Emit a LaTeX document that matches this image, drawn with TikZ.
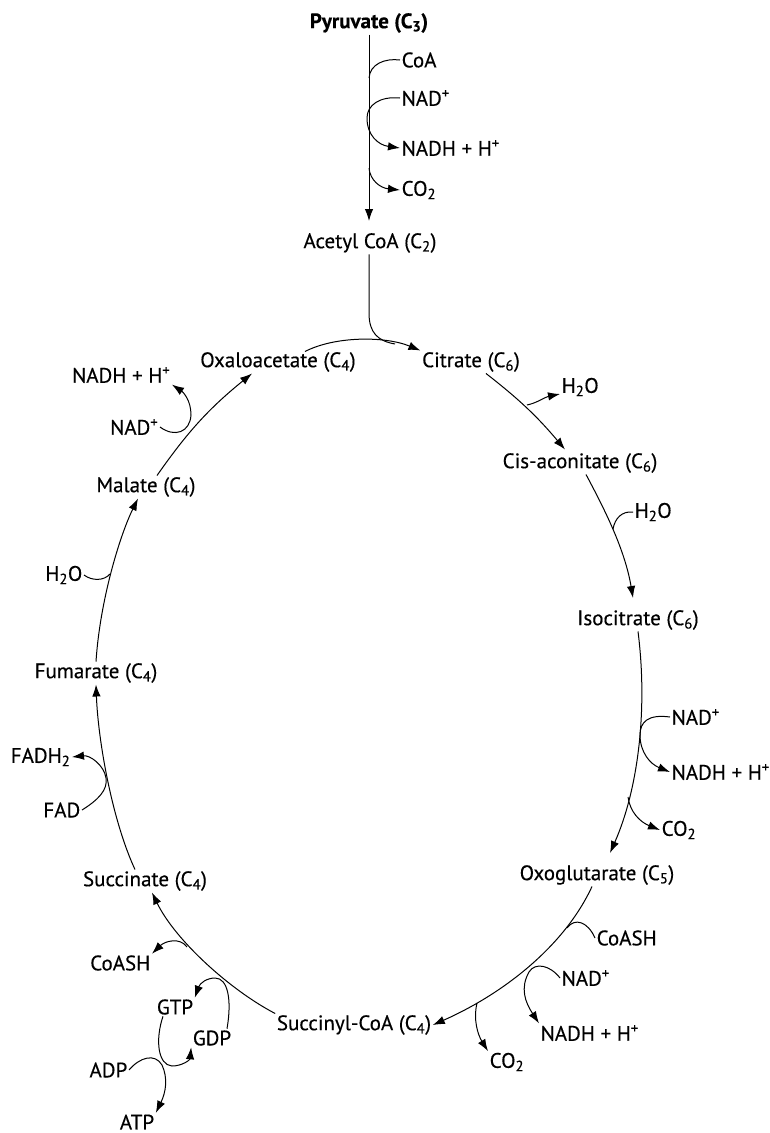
\documentclass[tikz,border=0pt]{standalone}
\usepackage{fontspec}
\setmainfont{PT Sans}[FakeBold=0.35]
\usetikzlibrary{arrows.meta,calc}
\newcommand\labfont{\fontsize{21}{24}\selectfont}
\newcommand\sub[1]{\textsubscript{#1}}
\newcommand\sups[1]{\textsuperscript{#1}}
\begin{document}
\begin{tikzpicture}[x=1pt,y=-1pt,
  lab/.style={inner sep=1.5pt,font=\labfont},
  conn/.style={line width=1pt},
  arr/.style={conn,-{Latex[length=12pt,width=8.5pt]}}]
\fill[white] (0,0) rectangle (770,1133);
\path[use as bounding box] (0,0) rectangle (770,1133);

% nodes
\node[lab,font=\labfont\bfseries] (pyr) at (369,23) {Pyruvate (C\sub{3})};
\node[lab,anchor=west] (coa1) at (400,60) {CoA};
\node[lab,anchor=west] (nad1) at (400,98) {NAD\sups{+}};
\node[lab,anchor=west] (nadh1) at (400,148) {NADH + H\sups{+}};
\node[lab,anchor=west] (co2a) at (400,190) {CO\sub{2}};
\node[lab] (acetyl) at (370,243) {Acetyl CoA (C\sub{2})};
\node[lab] (oxalo) at (278,362) {Oxaloacetate (C\sub{4})};
\node[lab] (citrate) at (471,362) {Citrate (C\sub{6})};
\node[lab,anchor=west] (h2o1) at (560,387) {H\sub{2}O};
\node[lab] (cis) at (580,463) {Cis-aconitate (C\sub{6})};
\node[lab,anchor=west] (h2o2) at (633,512) {H\sub{2}O};
\node[lab] (iso) at (638,620) {Isocitrate (C\sub{6})};
\node[lab,anchor=west] (nad2) at (670,717) {NAD\sups{+}};
\node[lab,anchor=west] (nadh2) at (670,772) {NADH + H\sups{+}};
\node[lab,anchor=west] (co2b) at (660,830) {CO\sub{2}};
\node[lab] (oxo) at (597,875) {Oxoglutarate (C\sub{5})};
\node[lab,anchor=west] (coash1) at (595,938) {CoASH};
\node[lab,anchor=west] (nad3) at (560,978) {NAD\sups{+}};
\node[lab,anchor=west] (nadh3) at (539,1033) {NADH + H\sups{+}};
\node[lab,anchor=west] (co2c) at (488,1062) {CO\sub{2}};
\node[lab] (succoa) at (354,1025) {Succinyl-CoA (C\sub{4})};
\node[lab,anchor=east] (coash2) at (152,963) {CoASH};
\node[lab] (gtp) at (175,1007) {GTP};
\node[lab] (gdp) at (212,1038) {GDP};
\node[lab,anchor=east] (adp) at (129,1070) {ADP};
\node[lab] (atp) at (137,1122) {ATP};
\node[lab] (succ) at (145,881) {Succinate (C\sub{4})};
\node[lab,anchor=east] (fad) at (82,810) {FAD};
\node[lab,anchor=east] (fadh2) at (72,757) {FADH\sub{2}};
\node[lab] (fum) at (96,673) {Fumarate (C\sub{4})};
\node[lab,anchor=east] (h2o3) at (84,575) {H\sub{2}O};
\node[lab] (malate) at (146,487) {Malate (C\sub{4})};
\node[lab,anchor=east] (nad4) at (160,427) {NAD\sups{+}};
\node[lab,anchor=east] (nadh4) at (172,375) {NADH + H\sups{+}};

% branch points on main lines
\coordinate (p1) at (369,78);
\coordinate (p2) at (369,168);
\coordinate (b1) at (527,405);
\coordinate (b2) at (613,529);
\coordinate (b3) at (628,797);
\coordinate (b4) at (567,928);
\coordinate (b5) at (477,1003);
\coordinate (b6) at (187,947);
\coordinate (b7) at (110,574);

% pyruvate -> acetyl CoA
\draw[arr] (pyr.south -| 369,0) -- (369,221);
\draw[conn] (coa1.west) .. controls (385,58) and (370,64) .. (p1);
\draw[arr] (nad1.west) .. controls (380,96) and (367,105) .. (367,118)
  .. controls (367,135) and (378,145) .. (nadh1.west);
\draw[arr] (p2) .. controls (370,180) and (380,188) .. (co2a.west);

% acetyl -> citrate, oxaloacetate -> citrate
\draw[conn] (acetyl.south -| 369,0) -- (369,313) .. controls (369,333) and (378,341) .. (395,344);
\draw[arr] ([xshift=27pt,yshift=-1pt]oxalo.north) .. controls (335,336) and (385,336) .. (citrate.north west);

% citrate -> cis-aconitate
\draw[arr] ([xshift=15pt]citrate.south) to[bend left=6] ([xshift=-15pt,yshift=2pt]cis.north);
\draw[arr] (b1) .. controls (537,403) and (545,397) .. ([yshift=-7pt]h2o1.west);

% cis -> isocitrate
\draw[arr] ([xshift=6pt]cis.south) .. controls (605,510) and (625,550) .. (633,598);
\draw[conn] (h2o2.west) .. controls (622,511) and (615,518) .. (b2);

% isocitrate -> oxoglutarate
\draw[arr] (iso.south) .. controls (648,710) and (638,790) .. (610,853);
\draw[arr] (nad2.west) .. controls (648,714) and (640,722) .. (640,735)
  .. controls (640,752) and (650,764) .. (nadh2.west);
\draw[arr] (b3) .. controls (630,812) and (640,822) .. (co2b.west);

% oxoglutarate -> succinyl-CoA
\draw[arr] ([xshift=-5pt]oxo.south) .. controls (565,945) and (505,993) .. (succoa.east);
\draw[conn] (coash1.west) .. controls (588,922) and (575,917) .. (b4);
\draw[arr] (nad3.west) .. controls (550,965) and (535,962) .. (529,972)
  .. controls (520,988) and (525,1002) .. (nadh3.north west);
\draw[arr] (b5) .. controls (473,1020) and (478,1035) .. (co2c.north west);

% succinyl-CoA -> succinate
\draw[arr] (succoa.north west) .. controls (230,990) and (175,940) .. ([xshift=7pt]succ.south);
\draw[arr] (b6) .. controls (180,937) and (165,941) .. (coash2.north east);
\draw[arr] ([xshift=15pt]gdp.north) .. controls (232,1000) and (228,978) .. (215,978)
  .. controls (207,978) and (200,983) .. (gtp.north east);
\draw[arr] ([xshift=-12pt]gtp.south) .. controls (155,1040) and (158,1065) .. (172,1066)
  .. controls (182,1066) and (190,1060) .. (gdp.south west);
\draw[arr] (adp.east) .. controls (140,1057) and (155,1053) .. (162,1065)
  .. controls (168,1078) and (166,1092) .. (atp.north east);

% succinate -> fumarate
\draw[arr] ([xshift=-10pt]succ.north) .. controls (112,820) and (98,740) .. (fum.south);
\draw[arr] (fad.east) .. controls (98,800) and (108,790) .. (106,778)
  .. controls (104,765) and (90,755) .. (fadh2.east);

% fumarate -> malate
\draw[arr] (fum.north) .. controls (100,600) and (120,535) .. ([xshift=-8pt]malate.south);
\draw[conn] (h2o3.east) .. controls (92,581) and (104,581) .. (b7);

% malate -> oxaloacetate
\draw[arr] ([xshift=11pt]malate.north) to[bend left=8] ([xshift=-26pt]oxalo.south);
\draw[arr] (nad4.east) .. controls (175,438) and (190,432) .. (191,415)
  .. controls (191,400) and (183,392) .. (nadh4.south east);
\end{tikzpicture}
\end{document}
